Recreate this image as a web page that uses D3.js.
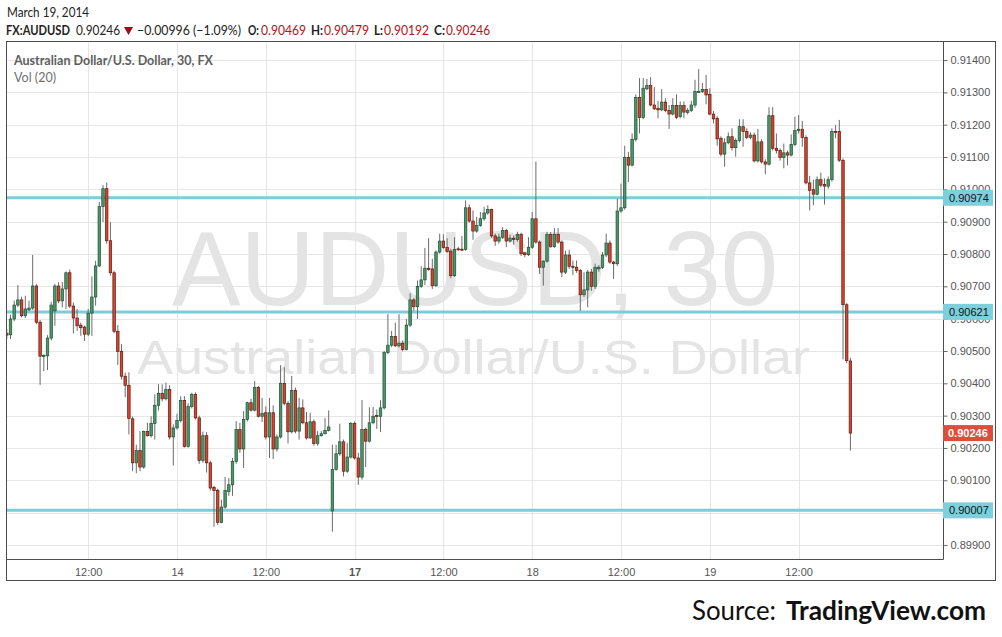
<!DOCTYPE html>
<html><head><meta charset="utf-8">
<script src="https://cdn.jsdelivr.net/npm/d3@7"></script>
<style>html,body{margin:0;padding:0;background:#fff}svg{display:block}</style>
</head><body>
<svg id="c" width="1002" height="637"></svg>
<script>
// AUD/USD 30-minute bars, prices in units of 0.00001
const opens = [90555,90550,90599,90642,90658,90609,90627,90633,90701,90589,90483,90485,90540,90624,90701,90655,90692,90742,90639,90602,90580,90574,90552,90617,90667,90763,90947,91002,90841,90742,90561,90499,90422,90394,90290,90154,90192,90141,90251,90238,90276,90332,90369,90352,90381,90234,90262,90285,90347,90205,90328,90366,90293,90161,90238,90154,90078,90068,89970,90017,90065,90086,90158,90257,90197,90288,90340,90317,90387,90298,90309,90234,90309,90197,90234,90400,90338,90250,90378,90252,90324,90278,90231,90281,90214,90238,90244,90254,90005,90133,90182,90219,90128,90172,90276,90169,90110,90257,90221,90278,90300,90298,90324,90495,90518,90545,90516,90524,90505,90580,90658,90637,90700,90720,90756,90754,90702,90806,90840,90820,90809,90733,90816,90815,90814,90943,90902,90871,90888,90909,90927,90938,90856,90840,90852,90873,90840,90849,90845,90861,90804,90798,90821,90909,90837,90759,90778,90860,90823,90861,90837,90744,90797,90762,90759,90749,90674,90689,90744,90700,90754,90759,90797,90834,90775,90770,90933,90943,91099,91075,91155,91284,91222,91311,91321,91261,91251,91246,91270,91244,91233,91259,91225,91259,91238,91244,91261,91302,91303,91309,91294,91233,91220,91158,91109,91144,91163,91129,91151,91194,91179,91161,91168,91088,91147,91085,91078,91228,91127,91120,91099,91113,91106,91139,91182,91186,91160,91020,90999,90985,91030,91015,91010,91030,91179,91179,91090,90643,90469];
const highs = [90568,90612,90656,90704,90668,90671,90656,90797,90707,90596,90490,90549,90652,90707,90713,90713,90746,90752,90650,90630,90588,90578,90630,90731,90779,90961,91013,91021,90899,90748,90580,90521,90433,90434,90297,90210,90252,90254,90278,90298,90366,90397,90397,90402,90394,90273,90306,90360,90360,90338,90371,90372,90300,90251,90249,90161,90083,90074,90040,90110,90107,90169,90283,90278,90314,90343,90352,90407,90392,90355,90329,90355,90332,90242,90456,90450,90345,90423,90387,90355,90350,90311,90309,90288,90252,90252,90293,90316,90210,90210,90275,90226,90216,90280,90282,90185,90348,90263,90326,90327,90319,90348,90500,90614,90562,90588,90614,90533,90599,90679,90664,90718,90762,90819,90849,90785,90811,90863,90861,90849,90816,90852,90822,90856,90966,90953,90935,90915,90930,90946,90951,90940,90863,90863,90883,90878,90860,90857,90869,90866,90806,90852,90930,91086,90842,90780,90869,90868,90880,90880,90842,90810,90813,90780,90780,90754,90744,90751,90754,90770,90766,90806,90863,90842,90779,90971,91018,91135,91116,91173,91294,91344,91344,91342,91347,91316,91274,91310,91282,91261,91282,91294,91272,91272,91251,91274,91339,91372,91329,91354,91313,91242,91226,91164,91158,91176,91189,91158,91217,91217,91189,91176,91176,91187,91155,91093,91254,91254,91173,91127,91142,91120,91170,91225,91230,91212,91167,91042,91030,91040,91052,91034,91040,91189,91199,91215,91096,90648,90479];
const lows = [90537,90537,90592,90636,90604,90602,90624,90627,90583,90395,90438,90441,90533,90578,90648,90635,90630,90633,90554,90562,90547,90531,90546,90547,90640,90760,90899,90832,90733,90555,90457,90412,90357,90242,90128,90122,90128,90136,90235,90232,90226,90316,90344,90347,90226,90146,90257,90279,90201,90201,90322,90288,90151,90154,90124,90068,89956,89962,89967,90012,90052,90052,90151,90185,90138,90282,90313,90313,90294,90280,90226,90169,90166,90189,90229,90332,90214,90245,90245,90226,90273,90226,90228,90207,90207,90235,90242,90251,89941,90130,90176,90112,90123,90167,90164,90086,90102,90141,90217,90273,90259,90249,90319,90490,90512,90512,90511,90499,90502,90574,90624,90599,90695,90704,90748,90692,90698,90801,90816,90804,90725,90729,90810,90810,90810,90897,90844,90866,90884,90903,90922,90850,90825,90832,90847,90821,90835,90829,90838,90794,90790,90794,90816,90832,90738,90702,90773,90819,90819,90832,90728,90738,90754,90735,90742,90624,90667,90635,90686,90692,90745,90754,90791,90770,90723,90763,90928,90937,91023,91071,91148,91173,91217,91307,91257,91245,91220,91242,91239,91187,91229,91217,91220,91220,91232,91239,91253,91298,91298,91263,91229,91204,91135,91102,91070,91139,91120,91101,91145,91132,91155,91155,91083,91083,91080,91047,91074,91120,91111,91089,91065,91074,91102,91133,91173,91132,91015,90935,90951,90981,91006,90953,91002,91024,91158,91085,90474,90462,90192];
const closes = [90549,90599,90642,90658,90609,90630,90633,90701,90589,90484,90486,90540,90642,90701,90655,90692,90742,90639,90602,90578,90572,90552,90617,90667,90763,90947,91002,90841,90742,90561,90499,90422,90394,90291,90154,90192,90141,90251,90238,90276,90332,90369,90352,90381,90234,90262,90285,90347,90205,90328,90366,90293,90161,90238,90154,90076,90068,89970,90017,90068,90086,90158,90257,90197,90288,90340,90317,90387,90298,90307,90234,90309,90197,90234,90400,90338,90250,90378,90252,90324,90278,90231,90281,90214,90238,90244,90254,90265,90133,90182,90219,90128,90172,90276,90169,90110,90257,90221,90278,90298,90298,90324,90495,90518,90545,90516,90524,90505,90580,90658,90637,90700,90720,90756,90752,90702,90806,90840,90820,90808,90733,90814,90814,90813,90943,90902,90871,90888,90909,90927,90938,90856,90840,90852,90873,90840,90849,90845,90861,90801,90798,90821,90909,90837,90759,90778,90860,90823,90861,90837,90744,90797,90762,90759,90749,90674,90689,90744,90700,90759,90759,90797,90834,90775,90770,90933,90943,91099,91075,91155,91284,91222,91313,91321,91261,91249,91246,91270,91244,91233,91259,91223,91259,91239,91244,91261,91303,91303,91309,91292,91233,91218,91156,91109,91144,91163,91129,91151,91194,91179,91161,91168,91088,91147,91085,91078,91228,91127,91120,91099,91113,91106,91139,91182,91186,91160,91020,90997,90985,91030,91013,91010,91030,91179,91176,91090,90643,90470,90246];

// x-axis ticks (bar index of the tick and its label)
const tickBars   = [22, 46, 70, 94, 118, 142, 166, 190, 214];
const tickLabels = ["12:00", "14", "12:00", "17", "12:00", "18", "12:00", "19", "12:00"];
const priceTicks = [0.899,0.900,0.901,0.902,0.903,0.904,0.905,0.906,0.907,0.908,0.909,0.910,0.911,0.912,0.913,0.914];
const levels = [0.90974, 0.90621, 0.90007];
const lastPrice = 0.90246;

const svg = d3.select("#c");
const L = 7, R = 943, T = 42, B = 559;
const x = d3.scaleLinear().domain([0, 228]).range([6.8, 850.4]);
const y = d3.scaleLinear().domain([0.898565, 0.914559]).range([B, T]);
const P = v => v / 100000;

svg.append("rect").attr("width",1002).attr("height",637).attr("fill","#fff");

// header
const hdr = svg.append("g").attr("font-family","Lato, 'Open Sans', sans-serif").attr("fill","#222");
hdr.append("text").attr("x",7).attr("y",17).attr("font-size",14).attr("textLength",82).attr("lengthAdjust","spacingAndGlyphs").text("March 19, 2014");
const seg = [
  {t:"FX:AUDUSD", x:6, w:64, b:true, c:"#222"},
  {t:"0.90246", x:76, w:44, b:false, c:"#222"},
  {t:"\u22120.00996 (\u22121.09%)", x:137, w:104, b:false, c:"#222"},
  {t:"O:", x:248, w:11, b:true, c:"#222"},
  {t:"0.90469", x:261, w:45, b:false, c:"#b0141a"},
  {t:"H:", x:311, w:12, b:true, c:"#222"},
  {t:"0.90479", x:324, w:45, b:false, c:"#b0141a"},
  {t:"L:", x:374, w:9, b:true, c:"#222"},
  {t:"0.90192", x:384, w:45, b:false, c:"#b0141a"},
  {t:"C:", x:434, w:11, b:true, c:"#222"},
  {t:"0.90246", x:446, w:44, b:false, c:"#b0141a"}
];
hdr.selectAll("text.seg").data(seg).join("text").attr("class","seg")
  .attr("x",d=>d.x).attr("y",35).attr("font-size",13)
  .attr("font-weight",d=>d.b?"bold":"normal").attr("fill",d=>d.c)
  .attr("textLength",d=>d.w).attr("lengthAdjust","spacingAndGlyphs").text(d=>d.t);
hdr.append("path").attr("d","M124,27 L133,27 L128.5,35 Z").attr("fill","#9b0f12");

// grid
const g = svg.append("g");
g.selectAll("line.hg").data(priceTicks).join("line")
  .attr("x1",L).attr("x2",R).attr("y1",d=>Math.round(y(d))+0.5).attr("y2",d=>Math.round(y(d))+0.5)
  .attr("stroke","#e6e6e6").attr("stroke-width",1);
g.selectAll("line.vg").data(tickBars).join("line")
  .attr("y1",T).attr("y2",B).attr("x1",d=>Math.round(x(d))+0.5).attr("x2",d=>Math.round(x(d))+0.5)
  .attr("stroke","#e6e6e6").attr("stroke-width",1);

// watermark
svg.append("text").attr("x",172).attr("y",305).attr("font-family","'Liberation Sans', Arial, sans-serif")
  .attr("font-size",106).attr("fill","#e4e4e4").attr("textLength",606).attr("lengthAdjust","spacingAndGlyphs").text("AUDUSD, 30");
svg.append("text").attr("x",137).attr("y",374).attr("font-family","'Liberation Sans', Arial, sans-serif")
  .attr("font-size",49).attr("fill","#e4e4e4").attr("textLength",673).attr("lengthAdjust","spacingAndGlyphs").text("Australian Dollar/U.S. Dollar");

// legend in pane
svg.append("text").attr("x",14).attr("y",65).attr("font-family","Lato, sans-serif").attr("font-weight","bold")
  .attr("font-size",12.5).attr("fill","#5e5e5e").attr("textLength",199).attr("lengthAdjust","spacingAndGlyphs")
  .text("Australian Dollar/U.S. Dollar, 30, FX");
svg.append("text").attr("x",14).attr("y",82).attr("font-family","Lato, sans-serif")
  .attr("font-size",12.5).attr("fill","#707070").attr("textLength",42).attr("lengthAdjust","spacingAndGlyphs")
  .text("Vol (20)");

// horizontal levels
svg.selectAll("line.lvl").data(levels).join("line")
  .attr("x1",L).attr("x2",R).attr("y1",d=>y(d)).attr("y2",d=>y(d))
  .attr("stroke","#7ecbd9").attr("stroke-width",3);

// candles
const bars = d3.range(opens.length).map(i => ({i, o:P(opens[i]), h:P(highs[i]), l:P(lows[i]), c:P(closes[i])}));
svg.append("clipPath").attr("id","clip").append("rect").attr("x",L).attr("y",T).attr("width",R-L).attr("height",B-T);
const cg = svg.append("g").attr("clip-path","url(#clip)");
cg.selectAll("line.wick").data(bars).join("line")
  .attr("x1",d=>x(d.i)).attr("x2",d=>x(d.i)).attr("y1",d=>y(d.h)).attr("y2",d=>y(d.l))
  .attr("stroke","#6b6b6b").attr("stroke-width",1);
cg.selectAll("rect.body").data(bars).join("rect")
  .attr("x",d=>x(d.i)-1.25).attr("width",2.5)
  .attr("y",d=>Math.min(y(d.o),y(d.c)))
  .attr("height",d=>Math.max(1,Math.abs(y(d.o)-y(d.c))))
  .attr("fill",d=>d.c>=d.o?"#4a9868":"#d9432c")
  .attr("stroke",d=>d.c>=d.o?"#1f5034":"#5e1a10").attr("stroke-width",0.7);

// frame / axes lines
svg.append("rect").attr("x",6.5).attr("y",41.5).attr("width",989).attr("height",539)
  .attr("fill","none").attr("stroke","#4d4d4d");
svg.append("line").attr("x1",943.5).attr("x2",943.5).attr("y1",42).attr("y2",559.5).attr("stroke","#4d4d4d");
svg.append("line").attr("x1",7).attr("x2",943.5).attr("y1",559.5).attr("y2",559.5).attr("stroke","#4d4d4d");

// price axis (the 0.90000 label sits fully under the 0.90007 level tag, as in the reference)
const yAxis = d3.axisRight(y).tickValues(priceTicks)
  .tickFormat(d => Math.abs(d-0.900)<1e-9 ? "" : d3.format(".5f")(d)).tickSize(4).tickPadding(3);
const ya = svg.append("g").attr("transform","translate(943.5,0)").call(yAxis);
ya.select(".domain").remove();
ya.selectAll("line").attr("stroke","#666");
ya.selectAll("text").attr("font-family","'Liberation Sans', Arial, sans-serif").attr("font-size",11).attr("fill","#555");

// time axis
const xAxis = d3.axisBottom(x).tickValues(tickBars).tickFormat((d,i)=>tickLabels[i]).tickSize(0).tickPadding(9);
const xa = svg.append("g").attr("transform","translate(0,559.5)").call(xAxis);
xa.select(".domain").remove();
xa.selectAll("text").attr("font-family","'Liberation Sans Narrow', 'Liberation Sans', Arial, sans-serif")
  .attr("font-size",11).attr("fill","#555")
  .attr("font-weight",(d,i)=>tickLabels[i]==="17"?"bold":"normal");

// level labels
const lab = svg.append("g");
levels.forEach(v=>{
  lab.append("rect").attr("x",943).attr("y",y(v)-8).attr("width",50).attr("height",16).attr("fill","#7ecfdc");
  lab.append("text").attr("x",949).attr("y",y(v)+4).attr("font-family","'Liberation Sans', Arial, sans-serif")
    .attr("font-size",11).attr("fill","#111").text(d3.format(".5f")(v));
});
lab.append("rect").attr("x",943).attr("y",y(lastPrice)-8).attr("width",50).attr("height",16).attr("fill","#dc4e3c");
lab.append("text").attr("x",948).attr("y",y(lastPrice)+4).attr("font-family","'Liberation Sans', Arial, sans-serif")
  .attr("font-size",11).attr("font-weight","bold").attr("fill","#fff").text(d3.format(".5f")(lastPrice));

// source
const src = svg.append("g").attr("font-family","Lato, 'Open Sans', sans-serif").attr("font-size",26).attr("fill","#111");
src.append("text").attr("x",692).attr("y",620).attr("textLength",84).attr("lengthAdjust","spacingAndGlyphs").text("Source:");
src.append("text").attr("x",786).attr("y",620).attr("font-weight","bold").attr("textLength",200).attr("lengthAdjust","spacingAndGlyphs").text("TradingView.com");
</script>
</body></html>
